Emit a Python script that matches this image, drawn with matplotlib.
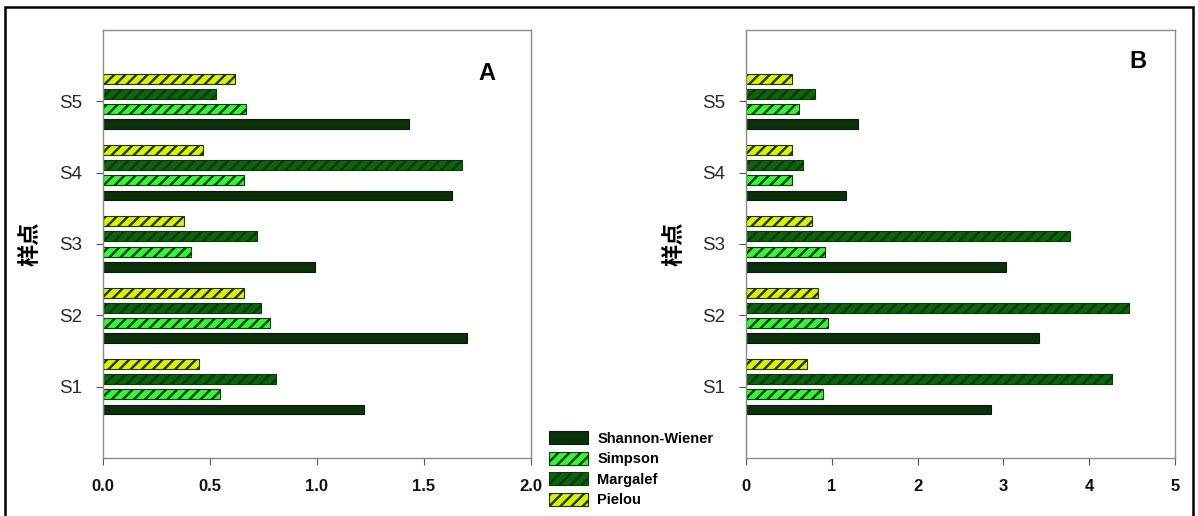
import matplotlib
matplotlib.use("Agg")
import matplotlib.pyplot as plt
import numpy as np
from matplotlib.patches import Rectangle

plt.rcParams['font.family'] = ['Liberation Sans', 'DejaVu Sans']
plt.rcParams['hatch.linewidth'] = 1.7

sites = ["S1", "S2", "S3", "S4", "S5"]
series = ["Shannon-Wiener", "Simpson", "Margalef", "Pielou"]

# Panel A indices
shannon_a = [1.22, 1.70, 0.99, 1.63, 1.43]
simpson_a = [0.55, 0.78, 0.41, 0.66, 0.67]
margalef_a = [0.81, 0.74, 0.72, 1.68, 0.53]
pielou_a = [0.45, 0.66, 0.38, 0.47, 0.62]

# Panel B indices
shannon_b = [2.86, 3.41, 3.03, 1.17, 1.30]
simpson_b = [0.90, 0.96, 0.92, 0.54, 0.62]
margalef_b = [4.27, 4.46, 3.78, 0.66, 0.81]
pielou_b = [0.71, 0.84, 0.77, 0.54, 0.54]

xticks_a = [0.0, 0.5, 1.0, 1.5, 2.0]
xticks_b = [0, 1, 2, 3, 4, 5]

styles = {
    "Shannon-Wiener": dict(facecolor="#0b300b", edgecolor="#0a1a0a", hatch=None),
    "Simpson": dict(facecolor="#33f733", edgecolor="#0c3a0c", hatch="///"),
    "Margalef": dict(facecolor="#0e630e", edgecolor="#073a07", hatch="///"),
    "Pielou": dict(facecolor="#d8f500", edgecolor="#2a3000", hatch="///"),
}
offsets = [-0.32, -0.107, 0.107, 0.32]
bar_h = 0.14

W, H = 1198, 516
fig = plt.figure(figsize=(W / 100, H / 100), dpi=100)


def ax_rect(x0, x1, y0, y1):
    return [x0 / W, 1 - y1 / H, (x1 - x0) / W, (y1 - y0) / H]


def draw_panel(ax, data, xticks, xfmt, letter, letter_xy):
    y = np.arange(1, len(sites) + 1)
    handles = []
    for name, vals, off in zip(series, data, offsets):
        st = styles[name]
        h = ax.barh(y + off, vals, height=bar_h, facecolor=st["facecolor"],
                    edgecolor=st["edgecolor"], hatch=st["hatch"], linewidth=0.8,
                    label=name)
        handles.append(h)
    ax.set_xlim(xticks[0], xticks[-1])
    ax.set_ylim(0, 6)
    ax.set_yticks(y)
    ax.set_yticklabels(sites, fontsize=13.5, color="#2a2a2a")
    ax.set_xticks(xticks)
    ax.set_xticklabels([xfmt.format(t) for t in xticks], fontsize=12,
                       fontweight="bold", color="#111111")
    ax.tick_params(axis="both", direction="out", length=5, width=0.8,
                   color="#555555")
    ax.tick_params(axis="x", pad=10)
    ax.tick_params(axis="y", pad=10)
    for sp in ax.spines.values():
        sp.set_color("#8a8a8a")
        sp.set_linewidth(1.0)
    ax.set_ylabel("样点", fontsize=16, fontweight="bold",
                  family=["Noto Sans CJK SC", "DejaVu Sans"])
    ax.yaxis.set_label_coords(-0.142, 0.5)
    ax.text(letter_xy[0], letter_xy[1], letter, transform=ax.transAxes,
            fontsize=17, fontweight="bold", ha="center", va="center")
    return handles


ax_a = fig.add_axes(ax_rect(102.7, 531, 30, 458))
ax_b = fig.add_axes(ax_rect(746, 1175, 30, 458))

handles = draw_panel(ax_a, [shannon_a, simpson_a, margalef_a, pielou_a],
                     xticks_a, "{:.1f}", "A", (0.897, 0.898))
draw_panel(ax_b, [shannon_b, simpson_b, margalef_b, pielou_b],
           xticks_b, "{:d}", "B", (0.914, 0.927))

fig.legend(handles, series, loc="upper left",
           bbox_to_anchor=(549 / W, 1 - 431 / H), frameon=False,
           prop=dict(size=10.5, weight="bold"), handlelength=2.7,
           handleheight=1.0, labelspacing=0.42, handletextpad=0.6,
           borderaxespad=0, borderpad=0)

# outer frame around the whole figure
fig.patches.append(Rectangle((5 / W, -0.05), 1188 / W, 1 - 7 / H + 0.05,
                             transform=fig.transFigure, fill=False,
                             edgecolor="black", linewidth=1.8))

fig.savefig("out.png", dpi=100, facecolor="white")
